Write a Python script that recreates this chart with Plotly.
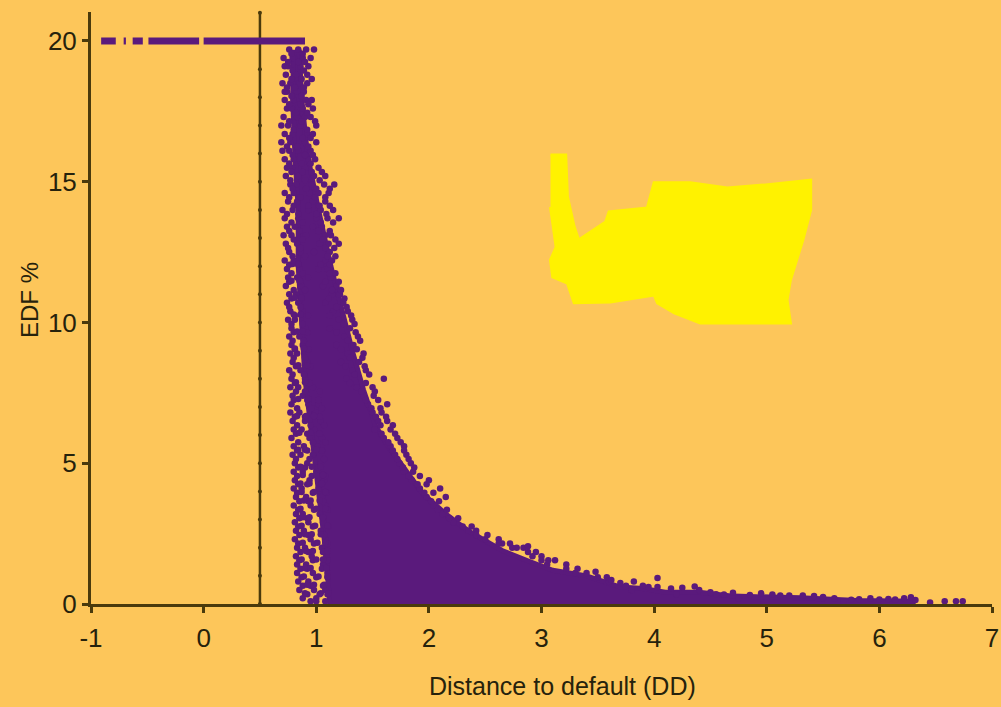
import plotly.graph_objects as go

# ---- values ----
x_ticks = [-1, 0, 1, 2, 3, 4, 5, 6, 7]
y_ticks = [0, 5, 10, 15, 20]
threshold_dd = 0.5
threshold_edf = list(range(0, 21)) + [21]

# capped EDF = 20 %: runs of overlapping firms
cap_dd = [-0.91, -0.78, None, -0.71, -0.69, None, -0.63, -0.54, None, -0.49, -0.04, None, 0.0, 0.9]
cap_edf = [20, 20, None, 20, 20, None, 20, 20, None, 20, 20, None, 20, 20]

# solid body where the firms overlap completely
body_dd = [1.12, 6.3, 6.3, 5.8, 5.3, 4.7, 4.4, 4.1, 3.9, 3.7, 3.4, 3.1, 2.9, 2.65, 2.35, 2.15, 1.95, 1.78, 1.64,
           1.53, 1.42, 1.32, 1.22, 1.13, 1.02, 0.92, 0.87, 0.85, 0.80, 0.79, 0.81, 0.84, 0.84, 0.87, 0.90, 0.96, 1.02, 1.08, 1.12]
body_edf = [0, 0, 0.1, 0.12, 0.22, 0.28, 0.42, 0.42, 0.55, 0.6, 1.0, 1.2, 1.5, 1.9, 2.6, 3.2, 3.9, 4.8, 5.6,
            6.3, 7.6, 9, 10.5, 12, 14, 16, 18, 19.6, 19.6, 18, 16, 14, 12, 10, 8, 6, 4, 2, 0]

# individually visible firms: one EDF level, then the DD of each firm on it
row_edf = [19.7, 19.4, 19.1, 18.8, 18.5, 18.2, 17.9, 17.6, 17.3, 17.0, 16.7, 16.4, 16.1, 15.8, 15.5, 15.2, 14.9,
           14.6, 14.3, 14.0, 13.7, 13.4, 13.1, 12.8, 12.5, 12.2, 11.9, 11.6, 11.3, 11.0, 10.7, 10.4, 10.1, 9.8,
           9.5, 9.2, 8.9, 8.6, 8.3, 8.0, 7.7, 7.4, 7.1, 6.8, 6.5, 6.2, 5.9, 5.6, 5.3, 5.0, 4.7, 4.4, 4.1, 3.8,
           3.5, 3.2, 2.9, 2.6, 2.3, 2.0, 1.7, 1.4, 1.1, 0.8, 0.5, 0.2]
row_dd = [
    [0.76, 0.84, 0.91, 0.98], [0.71, 0.79, 0.88, 0.95], [0.72, 0.75, 0.86, 0.93], [0.73, 0.82, 0.92],
    [0.70, 0.77, 0.85, 0.92], [0.72, 0.74, 0.83, 0.89], [0.72, 0.80, 0.91, 0.96], [0.74, 0.78, 0.88, 0.97],
    [0.71, 0.83, 0.90, 0.95], [0.69, 0.75, 0.86, 1.0], [0.72, 0.79, 0.92, 0.97], [0.69, 0.77, 0.90, 1.0],
    [0.70, 0.76, 0.84, 0.95], [0.72, 0.80, 0.93, 0.99], [0.74, 0.79, 0.90, 1.02], [0.73, 0.84, 0.98, 1.08],
    [0.77, 0.82, 0.96, 1.07, 1.16], [0.72, 0.80, 0.94, 1.02, 1.11], [0.75, 0.83, 0.97, 1.08], [0.70, 0.79, 0.93, 1.04, 1.15],
    [0.72, 0.84, 1.0, 1.10, 1.20], [0.74, 0.81, 0.97, 1.05], [0.71, 0.78, 0.91, 1.08, 1.13], [0.73, 0.83, 1.03, 1.11, 1.20],
    [0.76, 0.86, 0.98, 1.12], [0.72, 0.80, 1.08, 1.14], [0.74, 0.85, 1.02, 1.10], [0.75, 0.83, 0.93, 1.13],
    [0.73, 0.87, 1.06, 1.18], [0.76, 0.82, 1.14, 1.21], [0.74, 0.84, 1.08, 1.24], [0.77, 0.88, 1.15, 1.28],
    [0.75, 0.81, 1.20, 1.32], [0.78, 0.90, 1.12, 1.30], [0.76, 0.85, 1.25, 1.37], [0.78, 0.88, 1.18, 1.33],
    [0.77, 0.83, 1.28, 1.42], [0.79, 0.92, 1.22, 1.38], [0.76, 0.86, 1.32, 1.44], [0.78, 0.90, 1.27, 1.60],
    [0.77, 0.84, 0.97, 1.36, 1.50], [0.79, 0.88, 1.42, 1.51], [0.78, 0.93, 1.02, 1.46, 1.63], [0.77, 0.85, 0.99, 1.50, 1.58],
    [0.79, 0.90, 1.04, 1.55, 1.63], [0.80, 0.87, 0.98, 1.52, 1.66], [0.78, 0.94, 1.05, 1.60, 1.72], [0.80, 0.89, 1.01, 1.66, 1.78],
    [0.79, 0.86, 0.97, 1.70, 1.80], [0.81, 0.92, 1.04, 1.74, 1.84], [0.80, 0.88, 1.00, 1.78, 1.86], [0.81, 0.94, 1.07, 1.85, 2.0],
    [0.80, 0.87, 1.02, 1.92, 2.1], [0.82, 0.91, 1.05, 1.98, 2.15], [0.80, 0.95, 1.08, 2.04], [0.82, 0.88, 1.03, 2.12],
    [0.81, 0.93, 1.06, 2.22], [0.82, 0.89, 1.04, 2.35, 2.42], [0.81, 0.95, 1.08, 2.5, 2.62], [0.83, 0.90, 1.05, 2.78, 2.84],
    [0.82, 0.96, 1.09, 2.92, 3.0], [0.83, 0.91, 1.06, 3.05, 3.22], [0.83, 0.97, 1.10, 3.3, 3.4], [0.84, 0.93, 3.6, 3.82],
    [0.85, 0.98, 1.08, 3.8, 4.4], [0.88, 1.0, 4.75, 5.5],
]

# firms between those levels, filling the speckled part
mid_edf = [19.55, 19.25, 18.95, 18.65, 18.35, 18.05, 17.75, 17.45, 17.15, 16.85, 16.55, 16.25, 15.95, 15.65, 15.35, 15.05,
           14.75, 14.45, 14.15, 13.85, 13.55, 13.25, 12.95, 12.65, 12.35, 12.05, 11.75, 11.45, 11.15, 10.85, 10.55, 10.25,
           9.95, 9.65, 9.35, 9.05, 8.75, 8.45, 8.15, 7.85, 7.55, 7.25, 6.95, 6.65, 6.35, 6.05, 5.75, 5.45, 5.15, 4.85,
           4.55, 4.25, 3.95, 3.65, 3.35, 3.05, 2.75, 2.45, 2.15, 1.85, 1.55, 1.25, 0.95, 0.65, 0.35]
mid_dd = [
    [0.78, 0.88], [0.75, 0.84, 0.9], [0.79, 0.89], [0.78, 0.87, 0.96], [0.74, 0.81, 0.89], [0.78, 0.87], [0.76, 0.86, 0.93],
    [0.82, 0.92], [0.76, 0.87, 0.99], [0.80, 0.92], [0.76, 0.88, 0.95], [0.74, 0.83, 0.93], [0.79, 0.90, 0.97], [0.76, 0.87, 0.95],
    [0.78, 0.88, 0.96, 1.05], [0.77, 0.90, 1.03], [0.79, 0.91, 1.0, 1.12], [0.76, 0.86, 0.99, 1.08], [0.80, 0.93, 1.03, 1.12],
    [0.74, 0.84, 1.0, 1.09], [0.78, 0.88, 1.04, 1.15], [0.76, 0.85, 1.02, 1.12], [0.80, 0.88, 1.06, 1.17], [0.75, 0.86, 1.08, 1.16],
    [0.79, 0.90, 1.1, 1.17], [0.76, 0.84, 1.04, 1.12], [0.78, 0.88, 1.12, 1.17], [0.76, 0.86, 1.08, 1.2], [0.8, 0.9, 1.14, 1.22],
    [0.78, 0.87, 1.11, 1.25], [0.76, 0.86, 1.18, 1.27], [0.81, 0.93, 1.12, 1.31], [0.78, 0.88, 1.24, 1.34], [0.8, 0.92, 1.18, 1.35],
    [0.79, 0.89, 1.28, 1.39], [0.81, 0.93, 1.22, 1.36], [0.8, 0.9, 1.3, 1.41], [0.82, 0.95, 1.26, 1.43], [0.79, 0.89, 1.34, 1.47],
    [0.81, 0.94, 1.3, 1.44], [0.82, 0.9, 1.03, 1.4, 1.52], [0.8, 0.92, 1.02, 1.44, 1.55], [0.83, 0.96, 1.05, 1.49, 1.57],
    [0.81, 0.9, 1.03, 1.53, 1.62], [0.83, 0.95, 1.07, 1.57, 1.68], [0.82, 0.92, 1.03, 1.58, 1.7], [0.84, 0.97, 1.08, 1.64, 1.75],
    [0.83, 0.92, 1.05, 1.68, 1.78], [0.82, 0.94, 1.07, 1.72, 1.82], [0.84, 0.9, 1.02, 1.77, 1.87],
    [0.83, 0.96, 1.08, 1.82, 1.92], [0.84, 0.92, 1.04, 1.9, 1.98], [0.83, 0.97, 1.09, 1.96, 2.04], [0.85, 0.93, 1.06, 2.02, 2.09],
    [0.84, 0.98, 1.1, 2.08, 2.16], [0.85, 0.92, 1.06, 2.18, 2.26], [0.84, 0.97, 1.11, 2.3, 2.38], [0.85, 0.93, 1.07, 2.42, 2.52],
    [0.84, 0.98, 1.1, 2.65, 2.72], [0.86, 0.93, 1.06, 2.88, 2.95], [0.85, 0.97, 1.1, 3.0, 3.12], [0.86, 0.92, 1.05, 3.22, 3.32],
    [0.87, 1.0, 1.1, 3.5, 3.58], [0.88, 0.95, 1.06, 3.75, 3.9], [0.92, 1.03, 1.1, 4.2, 4.55],
]

# more firms in the gap on the low-DD side of the body
low_edf = [12.08, 11.48, 10.88, 10.28, 9.68, 9.08, 8.48, 7.88, 7.28, 6.68, 6.08, 5.48, 4.88, 4.58, 4.28, 3.98, 3.68, 3.38,
           3.08, 2.78, 2.48, 2.18, 1.88, 1.58, 1.28, 0.98, 0.68, 0.38, 0.1]
low_dd = [
    [0.79, 0.84], [0.78, 0.85], [0.81, 0.87], [0.8, 0.86], [0.83, 0.88], [0.81, 0.89], [0.84, 0.92], [0.82, 0.9],
    [0.84, 0.93], [0.83, 0.91, 0.98], [0.85, 0.95], [0.84, 0.9, 1.0], [0.86, 0.96, 1.04], [0.88, 1.0, 1.06], [0.86, 0.94, 1.05],
    [0.87, 0.98, 1.08], [0.89, 0.95, 1.03], [0.86, 1.0, 1.08], [0.88, 0.94, 1.06], [0.87, 0.99, 1.1], [0.9, 0.96, 1.04],
    [0.88, 1.01, 1.08], [0.91, 0.97, 1.1], [0.87, 1.0, 1.06], [0.9, 0.95, 1.09], [0.89, 1.02, 1.1], [0.92, 0.98, 1.07],
    [0.9, 1.04, 1.11], [0.95, 1.0, 1.08],
]

# long tail of firms along the axis
tail_dd = [2.62, 2.74, 2.88, 3.06, 3.48, 4.03, 4.03, 4.36, 4.62, 4.85, 5.05, 5.2, 5.42, 5.6, 5.68, 5.82, 6.0, 6.14, 6.28, 6.32, 6.45, 6.58, 6.68, 6.74,
           3.62, 3.7, 3.95, 4.15, 4.25, 4.5, 4.7, 4.95, 5.12, 5.32, 5.5, 5.75, 5.92, 6.08, 6.22]
tail_edf = [2.15, 2.0, 2.05, 1.55, 1.15, 0.92, 0.6, 0.62, 0.34, 0.32, 0.34, 0.3, 0.28, 0.2, 0.1, 0.17, 0.16, 0.16, 0.24, 0.14, 0.05, 0.1, 0.1, 0.1,
            0.85, 0.75, 0.6, 0.55, 0.58, 0.42, 0.4, 0.38, 0.3, 0.3, 0.25, 0.15, 0.2, 0.18, 0.2]

# the yellow patch in the empty part of the plot
patch_dd = [3.08, 3.215, 3.23, 3.29, 3.33, 3.57, 3.60, 3.94, 4.0, 4.32, 4.65, 4.97, 5.39, 5.39, 5.32, 5.21, 5.18, 5.21, 4.41, 4.18, 4.03, 4.0, 3.61, 3.29, 3.23, 3.10, 3.08, 3.13, 3.08]
patch_edf = [15.95, 15.95, 14.47, 13.4, 12.93, 13.57, 13.93, 14.07, 14.96, 14.96, 14.78, 14.88, 15.06, 14.0, 12.93, 11.51, 10.8, 9.98, 9.98, 10.34, 10.69, 10.98, 10.73, 10.7, 11.4, 11.62, 12.22, 12.68, 14.1]

BG = "#FDC65A"
PURPLE = "#5A1A7C"
AXIS = "#4A3A0C"
TEXT = "#26220C"
FONT = "Liberation Sans, sans-serif"

point_dd = ([d for row in row_dd for d in row] + [d for row in mid_dd for d in row]
            + [d for row in low_dd for d in row] + tail_dd)
point_edf = ([e for e, row in zip(row_edf, row_dd) for _ in row]
             + [e for e, row in zip(mid_edf, mid_dd) for _ in row]
             + [e for e, row in zip(low_edf, low_dd) for _ in row] + tail_edf)

fig = go.Figure()
fig.add_trace(go.Scatter(x=patch_dd, y=patch_edf, mode="lines", fill="toself", fillcolor="#FFF200",
                         line=dict(color="#FFF200", width=3), hoverinfo="skip"))
fig.add_trace(go.Scatter(x=[threshold_dd] * len(threshold_edf), y=threshold_edf, mode="lines+markers",
                         line=dict(color=AXIS, width=2.5), marker=dict(color=AXIS, size=4), cliponaxis=False))
fig.add_trace(go.Scatter(x=body_dd, y=body_edf, mode="lines", fill="toself", fillcolor=PURPLE, cliponaxis=False,
                         line=dict(color=PURPLE, width=5), hoverinfo="skip"))
fig.add_trace(go.Scatter(x=cap_dd, y=cap_edf, mode="lines", line=dict(color=PURPLE, width=7), cliponaxis=False))
fig.add_trace(go.Scatter(x=point_dd, y=point_edf, mode="markers", cliponaxis=False,
                         marker=dict(color=PURPLE, size=6.5)))

axis_common = dict(showgrid=False, zeroline=False, showline=True, linecolor=AXIS, linewidth=3, automargin=False,
                   ticks="outside", tickcolor=AXIS, tickwidth=3, ticklen=6,
                   tickfont=dict(family=FONT, size=26, color=TEXT))
fig.update_xaxes(range=[-1, 7], tickvals=x_ticks, ticktext=[str(t) for t in x_ticks], ticklabelstandoff=3, **axis_common)
fig.update_yaxes(range=[0, 21.03], tickvals=y_ticks, ticktext=[str(t) for t in y_ticks], **axis_common)
fig.add_annotation(text="EDF %", xref="paper", yref="y", x=-0.0677, y=10.8, showarrow=False, textangle=-90,
                   xanchor="center", yanchor="middle", font=dict(family=FONT, size=24, color=TEXT))
fig.add_annotation(text="Distance to default (DD)", xref="x", yref="paper", x=3.19, y=-0.1385, showarrow=False,
                   xanchor="center", yanchor="middle", font=dict(family=FONT, size=25, color=TEXT))
fig.update_layout(width=1001, height=707, autosize=False, showlegend=False, paper_bgcolor=BG, plot_bgcolor=BG,
                  margin=dict(l=91, r=9, t=12, b=103))
fig.write_html("out.html", config={"displayModeBar": False},
               post_script="document.body.style.margin='0';document.body.style.background='%s';" % BG)
